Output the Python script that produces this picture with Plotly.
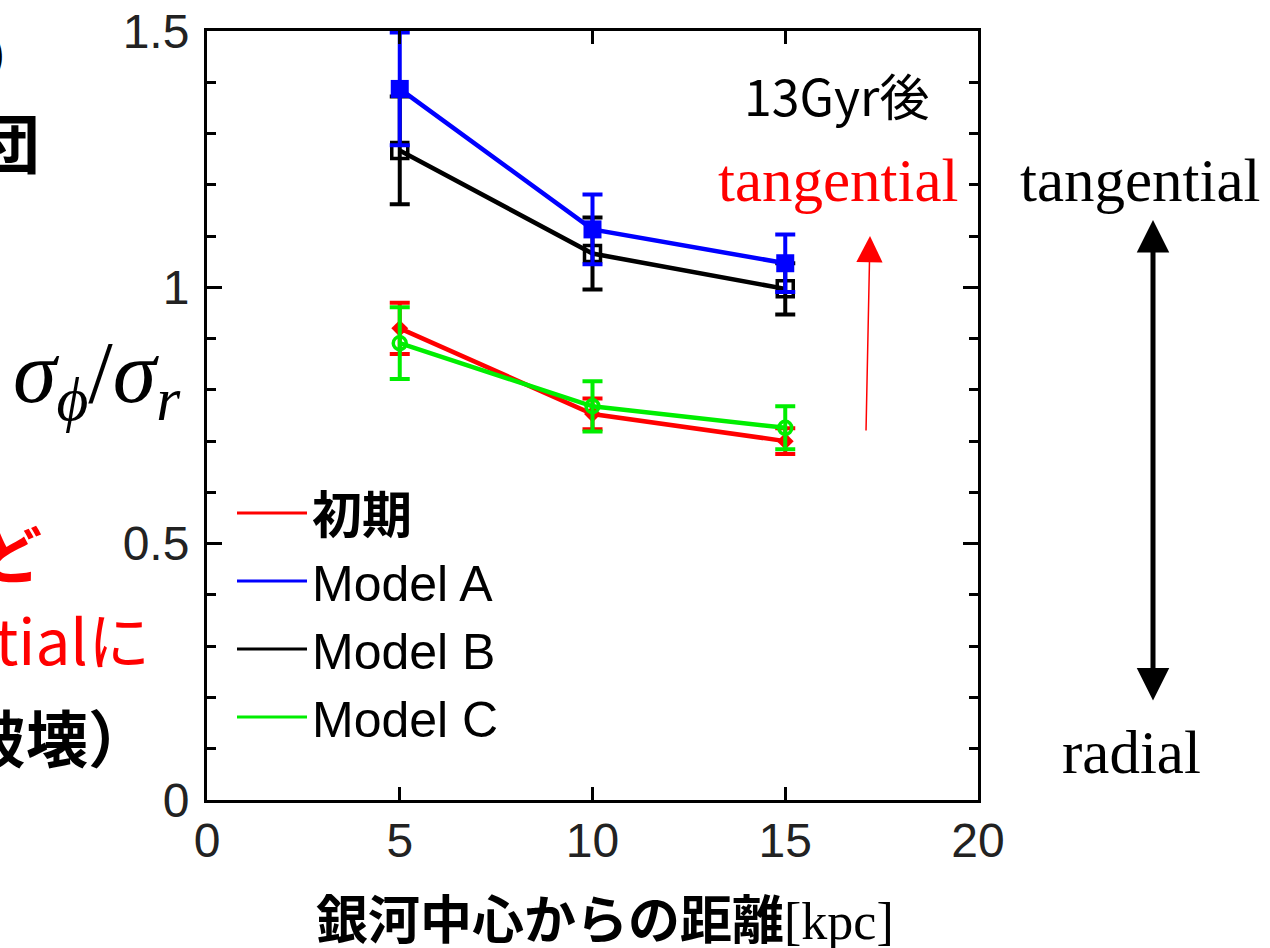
import plotly.graph_objects as go

# Galactocentric radius [kpc]
radius = [5, 10, 15]

# sigma_phi / sigma_r after 13 Gyr, with error half-widths
series_names = ["<b>初期</b>", "Model A", "Model B", "Model C"]
series_colors = ["#ff0000", "#0000ff", "#000000", "#00ee00"]
initial = [0.920, 0.753, 0.700]
initial_err = [0.050, 0.030, 0.025]
model_a = [1.387, 1.113, 1.047]
model_a_err = [0.110, 0.068, 0.056]
model_b = [1.267, 1.066, 0.997]
model_b_err = [0.105, 0.070, 0.050]
model_c = [0.891, 0.768, 0.726]
model_c_err = [0.070, 0.049, 0.042]

x_ticks = [0, 5, 10, 15, 20]
y_ticks = [0, 0.5, 1, 1.5]
y_tick_text = ["0", "0.5", "1", "1.5"]

W, H = 1270, 948
L, R, T, B = 207, 978, 31, 800


def fx(px):
    return (px - L) / (R - L)


def fy(py):
    return (B - py) / (B - T)


fig = go.Figure()

styles = {
    "初期": dict(symbol="diamond", size=13, line=dict(width=0)),
    "Model A": dict(symbol="square", size=18, line=dict(width=0)),
    "Model B": dict(symbol="square-open", size=16, line=dict(width=3.5)),
    "Model C": dict(symbol="circle-open", size=13, line=dict(width=3.5)),
}

data = {
    "<b>初期</b>": (initial, initial_err),
    "Model A": (model_a, model_a_err),
    "Model B": (model_b, model_b_err),
    "Model C": (model_c, model_c_err),
}

# drawing order: initial, B, A, C (A over B, C over initial)
draw_order = [0, 2, 1, 3]
for i in draw_order:
    name = series_names[i]
    col = series_colors[i]
    vals, errs = data[name]
    key = name.replace("<b>", "").replace("</b>", "")
    mk = dict(styles[key])
    mk["color"] = col
    mk["line"] = dict(mk["line"], color=col)
    fig.add_trace(go.Scatter(
        x=radius, y=vals, mode="lines+markers",
        line=dict(color=col, width=4.5),
        marker=mk,
        error_y=dict(type="data", array=errs, visible=True,
                     color=col, thickness=4, width=10),
        showlegend=False, name=key,
    ))

# legend entries (line samples only)
for i, name in enumerate(series_names):
    fig.add_trace(go.Scatter(
        x=[None], y=[None], mode="lines", name=name,
        line=dict(color=series_colors[i], width=3),
        legendrank=i + 1,
    ))

fig.update_layout(
    width=W, height=H, autosize=False,
    margin=dict(l=L, r=W - R, t=T, b=H - B, pad=0),
    paper_bgcolor="white", plot_bgcolor="white",
    font=dict(family="Liberation Sans, Noto Sans CJK JP", color="#111"),
    legend=dict(
        x=fx(232), y=fy(474), xanchor="left", yanchor="top",
        font=dict(size=50, family="Liberation Sans, Noto Sans CJK JP", color="#000"),
        bgcolor="rgba(0,0,0,0)", itemwidth=70, tracegroupgap=0,
        traceorder="normal",
    ),
)

axis_common = dict(
    showline=True, linecolor="#000", linewidth=3, mirror="allticks",
    ticks="inside", tickwidth=3, tickcolor="#000",
    showgrid=False, zeroline=False, automargin=False,
    tickfont=dict(size=48, family="Liberation Sans", color="#222"),
)
fig.update_xaxes(range=[0, 20], tickvals=x_ticks, ticklen=13,
                 ticklabelstandoff=-4, **axis_common)
fig.update_yaxes(range=[0, 1.5], tickvals=y_ticks, ticktext=y_tick_text,
                 ticklen=15, ticklabelstandoff=5,
                 minor=dict(dtick=0.1, ticks="inside", ticklen=9,
                            tickwidth=2.5, tickcolor="#000"),
                 **axis_common)

ann = []


def text(px, py, s, size, family, color="#000", xanchor="center"):
    ann.append(dict(x=fx(px), y=fy(py), xref="paper", yref="paper",
                    text=s, showarrow=False, xanchor=xanchor, yanchor="middle",
                    font=dict(size=size, family=family, color=color)))


serif = "Liberation Serif, Times New Roman, serif"
cjk = "Noto Sans CJK JP"

text(836, 94, "13Gyr後", 50, cjk)
text(838, 180, "tangential", 61, serif, "#ff0000")
text(1140, 180, "tangential", 61, serif)
text(1131, 752, "radial", 61, serif)

# y-axis quantity label
text(97, 378, "<i>σ</i><sub><i>ϕ</i></sub>/<i>σ</i><sub><i>r</i></sub>", 88, serif)

# x-axis title
text(605, 916,
     "<b>銀河中心からの距離</b><span style=\"font-family:Liberation Serif\">[kpc]</span>",
     52, cjk)

# slide text running in from the left edge
text(8, 52, ")", 40, cjk, xanchor="right")
text(42, 140, "<b>団</b>", 64, cjk, xanchor="right")
text(44, 552, "<b>ど</b>", 62, cjk, "#ff0000", xanchor="right")
text(152, 638, "tialに", 62, cjk, "#ff0000", xanchor="right")
text(152, 736, "<b>破壊）</b>", 62, cjk, xanchor="right")

# thin red arrow pointing up
ann.append(dict(x=fx(870), y=fy(236), xref="paper", yref="paper",
                ax=-4, ay=196, axref="pixel", ayref="pixel",
                showarrow=True, text="", arrowhead=2, arrowsize=3.5,
                arrowwidth=1.5, arrowcolor="#ff0000", standoff=0))
# black double-headed arrow tangential <-> radial
ann.append(dict(x=fx(1153), y=fy(220), xref="paper", yref="paper",
                ax=0, ay=482, axref="pixel", ayref="pixel",
                showarrow=True, text="", arrowhead=2, arrowsize=1.3,
                startarrowhead=2, startarrowsize=1.3, arrowside="end+start",
                arrowwidth=5, arrowcolor="#000", standoff=0, startstandoff=0))

fig.update_layout(annotations=ann)

fig.write_html("out.html")
